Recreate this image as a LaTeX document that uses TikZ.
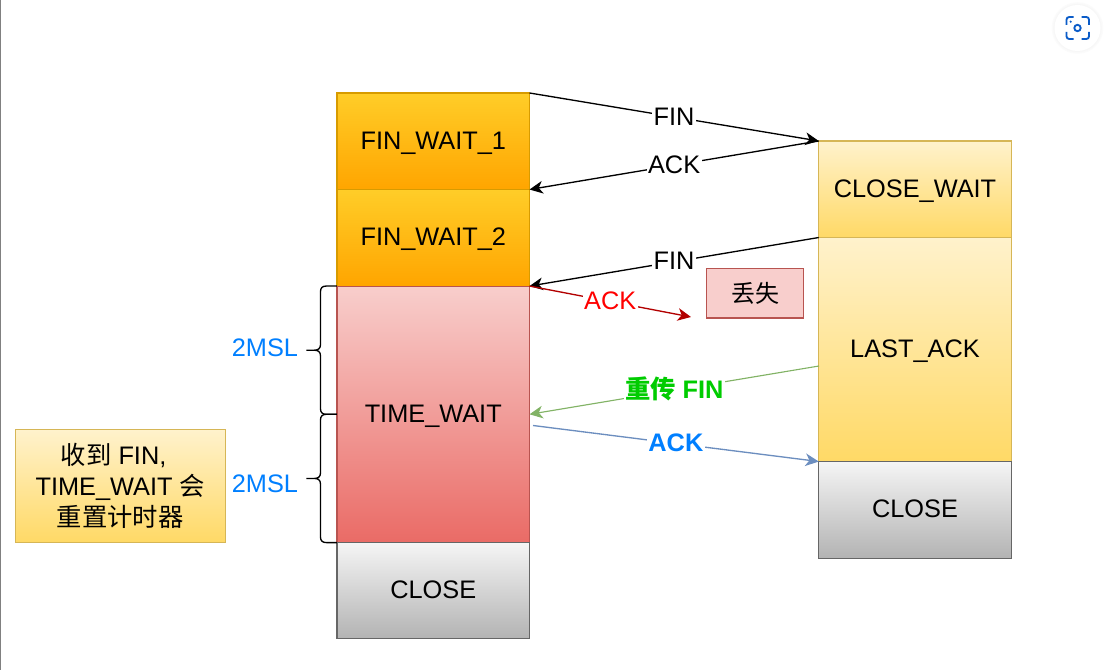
\documentclass[tikz,border=0pt]{standalone}
\usepackage{fontspec}
\setmainfont{Liberation Sans}
\newfontfamily\cjk{Noto Sans CJK SC}
\usetikzlibrary{positioning}
\usetikzlibrary{arrows.meta}
\usetikzlibrary{calc}
\definecolor{orange1}{HTML}{FFCD28}
\definecolor{orange2}{HTML}{FFA500}
\definecolor{orangeline}{HTML}{D79B00}
\definecolor{yellow1}{HTML}{FFF2CC}
\definecolor{yellow2}{HTML}{FFD966}
\definecolor{yellowline}{HTML}{D6B656}
\definecolor{red1}{HTML}{F8CECC}
\definecolor{red2}{HTML}{EA6B66}
\definecolor{redline}{HTML}{B85450}
\definecolor{gray1}{HTML}{F5F5F5}
\definecolor{gray2}{HTML}{B3B3B3}
\definecolor{grayline}{HTML}{666666}
\definecolor{textblue}{HTML}{007FFF}
\definecolor{textgreen}{HTML}{00CC00}
\definecolor{lostred}{HTML}{B20000}
\definecolor{resendgreen}{HTML}{82B366}
\definecolor{ackblue}{HTML}{6C8EBF}
\definecolor{iconblue}{HTML}{0B5CC8}
\def\labelfont{\fontsize{19}{23}\selectfont}
\tikzset{
state/.style={draw,outer sep=0pt,inner sep=0pt,minimum width=144.4pt,line width=0.8pt,text height=13.6pt,text depth=1.5pt,font=\labelfont},
fwait/.style={state,top color=orange1,bottom color=orange2,draw=orangeline},
cwait/.style={state,top color=yellow1,bottom color=yellow2,draw=yellowline},
twait/.style={state,top color=red1,bottom color=red2,draw=redline},
closed/.style={state,top color=gray1,bottom color=gray2,draw=grayline},
msg/.style={fill=white,inner sep=1pt,text height=13.6pt,text depth=1.5pt,font=\labelfont},
boldmsg/.style={msg,font=\bfseries\labelfont},
msl/.style={text=textblue,font=\labelfont},
scanmark/.style={iconblue,line width=1.4pt,rounded corners=2pt},
curly/.style={to path={
	let \p1=(\tikztostart), \p2=(\tikztotarget), \p3=($(\p1)!0.5!(\p2)$) in
	-- (\x1-8pt,\y1) .. controls (\x1-11pt,\y1) and (\x1-12.4pt,\y1-1.4pt) .. (\x1-12.4pt,\y1-4.4pt)
	-- (\x1-12.4pt,\y3+4pt) .. controls (\x1-12.4pt,\y3+1.4pt) and (\x1-14pt,\y3) .. (\x1-17pt,\y3)
	-- (\x1-23pt,\y3) -- (\x1-17pt,\y3) .. controls (\x1-14pt,\y3) and (\x1-12.4pt,\y3-1.4pt) .. (\x1-12.4pt,\y3-4pt)
	-- (\x1-12.4pt,\y2+4.4pt) .. controls (\x1-12.4pt,\y2+1.4pt) and (\x1-11pt,\y2) .. (\x1-8pt,\y2)
	-- (\tikztotarget)
}},
}
\begin{document}
\begin{tikzpicture}[x=0.75pt,y=-0.75pt,>={Stealth[length=10pt,width=9.5pt,inset=3pt]},line width=1pt]
\useasboundingbox (0,0) rectangle (1104,670);
%Place the nodes
\node[fwait,minimum height=72.4pt] (fw1) at (433.25,141.25) {FIN\_WAIT\_1};
\node[fwait,minimum height=72.4pt,below=0pt of fw1] (fw2) {FIN\_WAIT\_2};
\node[twait,minimum height=192.4pt,below=0pt of fw2] (tw) {TIME\_WAIT};
\node[closed,minimum height=72pt,below=0pt of tw] (cl1) {CLOSE};

\node[cwait,minimum height=72.4pt] (cw) at (915,189.25) {CLOSE\_WAIT};
\node[cwait,minimum height=168pt,below=0pt of cw] (la) {LAST\_ACK};
\node[closed,minimum height=72.4pt,below=0pt of la] (cl2) {CLOSE};

\node[draw=redline,fill=red1,outer sep=0pt,line width=0.8pt,minimum width=72.8pt,minimum height=36.8pt,font=\cjk\fontsize{18}{22}\selectfont] (lost) at (755,293.5) {丢失};
\node[draw=yellowline,top color=yellow1,bottom color=yellow2,outer sep=0pt,line width=0.8pt,minimum width=157.5pt,minimum height=84.5pt,inner sep=0pt,align=center,font=\labelfont] (note) at (120.25,486)
	{{\cjk 收到} FIN,\kern10pt\\TIME\_WAIT {\cjk 会}\\{\cjk 重置计时器}};

%free ends
\coordinate (redend) at (691,317);
\coordinate (greenstart) at (819,366);
\coordinate (bluestart) at (533,425.5);

%
\draw[->] (fw1.north east) to node[msg] {FIN} (cw.north west);
\draw[->] (cw.north west) to node[msg] {ACK} (fw1.south east);
\draw[->] (cw.south west) to node[msg] {FIN} (fw2.south east);

%
\draw[->,lostred] (tw.north east) to node[msg,text=red] {ACK} (redend);
\draw[->,resendgreen,line width=0.85pt] (greenstart) to node[boldmsg,text=textgreen] {{\cjk 重传} FIN} (tw.east);
\draw[->,ackblue] (bluestart) to node[boldmsg,text=textblue] {ACK} (cl2.north west);

%
\draw (tw.north west) to[curly] (tw.west);
\draw (tw.west) to[curly] (tw.south west);
\node[msl] (msl1) at (265,348) {2MSL};
\node[msl] (msl2) at (265,484) {2MSL};

%window edge and button
\draw[gray,line width=1.2pt] (0.7,0) -- (0.7,670);
\foreach \r/\tone in {26/1,25/2,24/3} {
	\fill[black!\tone] (1077.5,28) circle[radius=\r];
}
\node[circle,fill=white,minimum size=34.5pt,inner sep=0pt] (scan) at (1077.5,28) {};
\draw[scanmark] (1066.5,25) -- (1066.5,17) -- (1073.5,17);
\draw[scanmark] (1081.5,17) -- (1089,17) -- (1089,25);
\draw[scanmark] (1066.5,32) -- (1066.5,39) -- (1073.5,39);
\draw[scanmark] (1081.5,39) -- (1089,39) -- (1089,32);
\draw[iconblue,line width=1.4pt] (scan.center) circle[radius=3.2];
\fill[iconblue] (1070.7,21.7) circle[radius=1.2];
\end{tikzpicture}
\end{document}
